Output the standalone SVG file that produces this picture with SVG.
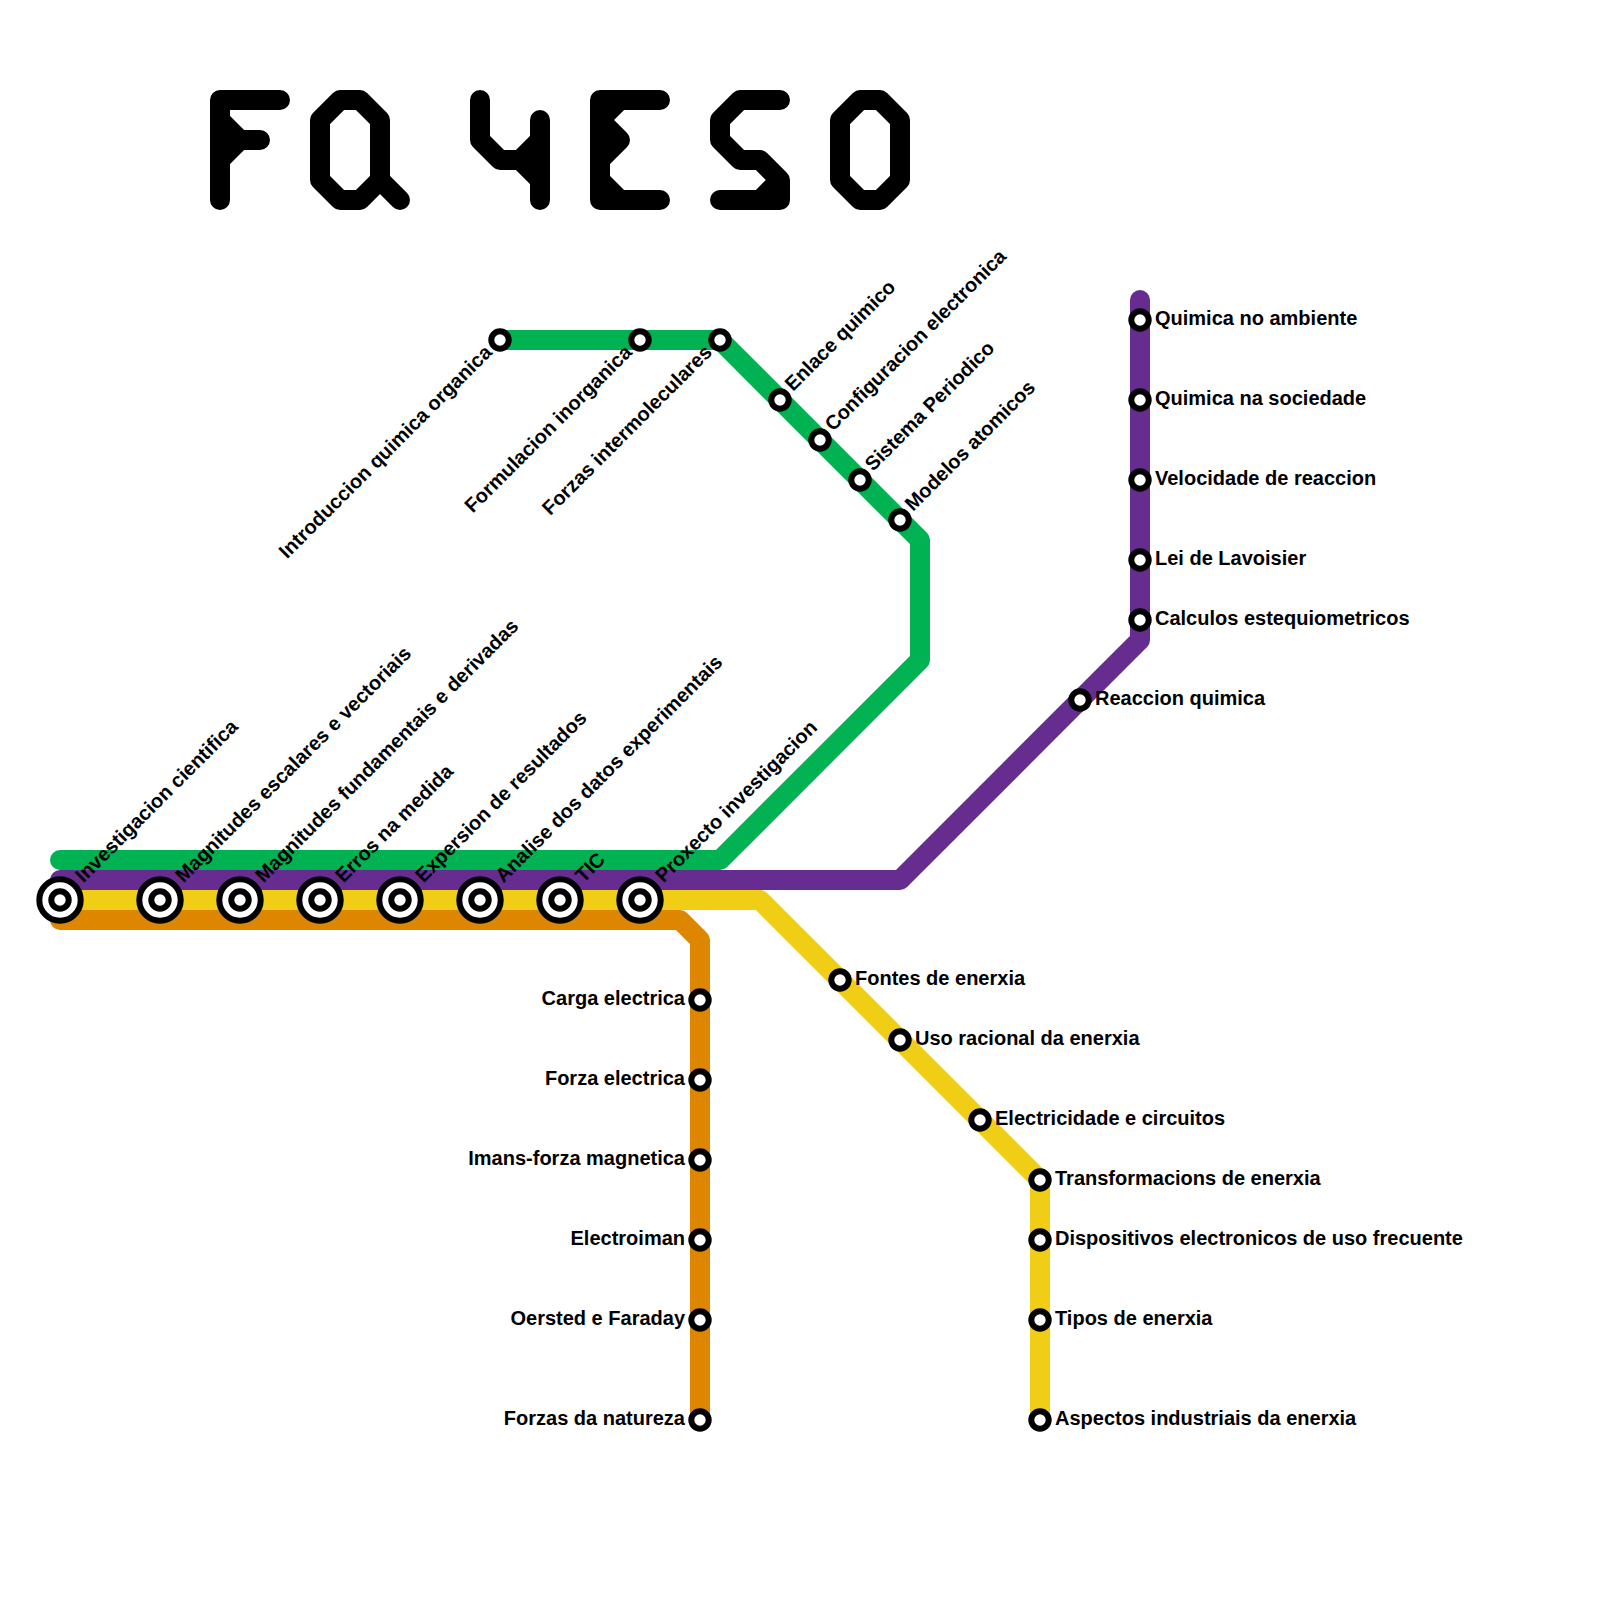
<svg xmlns="http://www.w3.org/2000/svg" width="1600" height="1600" viewBox="0 0 1600 1600">
<style>
.l{fill:none;stroke-width:20;stroke-linecap:round;stroke-linejoin:round}
.t{fill:none;stroke:#000;stroke-width:20;stroke-linecap:round;stroke-linejoin:round}
.s{fill:#fff;stroke:#000;stroke-width:6}
text{font-family:"Liberation Sans",Arial,sans-serif;font-weight:700;font-size:20px;fill:#000}
.e{text-anchor:end}
</style>
<defs>
<g id="big"><circle r="20.7" class="s"/><circle r="8.7" class="s"/></g>
<circle id="small" r="8.7" class="s"/>
</defs>
<rect width="1600" height="1600" fill="#fff"/>
<g id="title">
<path class="t" d="M280 100H220V200M220 120L240 140H260M240 140L220 160"/>
<path class="t" d="M340 100H360L380 120V180L360 200H340L320 180V120ZM380 180L400 200"/>
<path class="t" d="M480 100V140L500 160H520L540 140M540 120V200M520 160L540 180"/>
<path class="t" d="M660 100H600V200H660M620 100L600 120L620 140L600 160M600 180L620 200"/>
<path class="t" d="M780 100H740L720 120V140L740 160H760L780 180V200H720M780 180L760 200"/>
<path class="t" d="M860 100H880L900 120V180L880 200H860L840 180V120Z"/>
</g>
<g id="connectors">
<path class="l" stroke="#00b251" d="M60 860H720L920 660V540L720 340H500"/>
<path class="l" stroke="#662c90" d="M60 880H900L1140 640V300"/>
<path class="l" stroke="#f0ce15" d="M60 900H760L1040 1180V1420"/>
<path class="l" stroke="#df8600" d="M60 920H680L700 940V1420"/>
</g>
<g id="n1"><use href="#big" x="60" y="900"/><text transform="translate(83.5 883.5) rotate(-45)">Investigacion cientifica</text></g>
<g id="n2"><use href="#big" x="160" y="900"/><text transform="translate(183.5 883.5) rotate(-45)">Magnitudes escalares e vectoriais</text></g>
<g id="n3"><use href="#big" x="240" y="900"/><text transform="translate(263.5 883.5) rotate(-45)">Magnitudes fundamentais e derivadas</text></g>
<g id="n4"><use href="#big" x="320" y="900"/><text transform="translate(343.5 883.5) rotate(-45)">Erros na medida</text></g>
<g id="n5"><use href="#big" x="400" y="900"/><text transform="translate(423.5 883.5) rotate(-45)">Expersion de resultados</text></g>
<g id="n6"><use href="#big" x="480" y="900"/><text transform="translate(503.5 883.5) rotate(-45)">Analise dos datos experimentais</text></g>
<g id="n7"><use href="#big" x="560" y="900"/><text transform="translate(583.5 883.5) rotate(-45)">TIC</text></g>
<g id="n8"><use href="#big" x="640" y="900"/><text transform="translate(663.5 883.5) rotate(-45)">Proxecto investigacion</text></g>
<g id="n9"><use href="#small" x="500" y="340"/><text class="e" transform="translate(493 353.5) rotate(-45)">Introduccion quimica organica</text></g>
<g id="n10"><use href="#small" x="640" y="340"/><text class="e" transform="translate(633 353.5) rotate(-45)">Formulacion inorganica</text></g>
<g id="n11"><use href="#small" x="720" y="340"/><text class="e" transform="translate(713 353.5) rotate(-45)">Forzas intermoleculares</text></g>
<g id="n12"><use href="#small" x="780" y="400"/><text transform="translate(793 392) rotate(-45)">Enlace quimico</text></g>
<g id="n13"><use href="#small" x="820" y="440"/><text transform="translate(833 432) rotate(-45)">Configuracion electronica</text></g>
<g id="n14"><use href="#small" x="860" y="480"/><text transform="translate(873 472) rotate(-45)">Sistema Periodico</text></g>
<g id="n15"><use href="#small" x="900" y="520"/><text transform="translate(913 512) rotate(-45)">Modelos atomicos</text></g>
<g id="n16"><use href="#small" x="1140" y="320"/><text x="1155" y="325">Quimica no ambiente</text></g>
<g id="n17"><use href="#small" x="1140" y="400"/><text x="1155" y="405">Quimica na sociedade</text></g>
<g id="n18"><use href="#small" x="1140" y="480"/><text x="1155" y="485">Velocidade de reaccion</text></g>
<g id="n19"><use href="#small" x="1140" y="560"/><text x="1155" y="565">Lei de Lavoisier</text></g>
<g id="n20"><use href="#small" x="1140" y="620"/><text x="1155" y="625">Calculos estequiometricos</text></g>
<g id="n21"><use href="#small" x="1080" y="700"/><text x="1095" y="705">Reaccion quimica</text></g>
<g id="n22"><use href="#small" x="840" y="980"/><text x="855" y="985">Fontes de enerxia</text></g>
<g id="n23"><use href="#small" x="900" y="1040"/><text x="915" y="1045">Uso racional da enerxia</text></g>
<g id="n24"><use href="#small" x="980" y="1120"/><text x="995" y="1125">Electricidade e circuitos</text></g>
<g id="n25"><use href="#small" x="1040" y="1180"/><text x="1055" y="1185">Transformacions de enerxia</text></g>
<g id="n26"><use href="#small" x="1040" y="1240"/><text x="1055" y="1245">Dispositivos electronicos de uso frecuente</text></g>
<g id="n27"><use href="#small" x="1040" y="1320"/><text x="1055" y="1325">Tipos de enerxia</text></g>
<g id="n28"><use href="#small" x="1040" y="1420"/><text x="1055" y="1425">Aspectos industriais da enerxia</text></g>
<g id="n29"><use href="#small" x="700" y="1000"/><text class="e" x="685" y="1005">Carga electrica</text></g>
<g id="n30"><use href="#small" x="700" y="1080"/><text class="e" x="685" y="1085">Forza electrica</text></g>
<g id="n31"><use href="#small" x="700" y="1160"/><text class="e" x="685" y="1165">Imans-forza magnetica</text></g>
<g id="n32"><use href="#small" x="700" y="1240"/><text class="e" x="685" y="1245">Electroiman</text></g>
<g id="n33"><use href="#small" x="700" y="1320"/><text class="e" x="685" y="1325">Oersted e Faraday</text></g>
<g id="n34"><use href="#small" x="700" y="1420"/><text class="e" x="685" y="1425">Forzas da natureza</text></g>
</svg>
